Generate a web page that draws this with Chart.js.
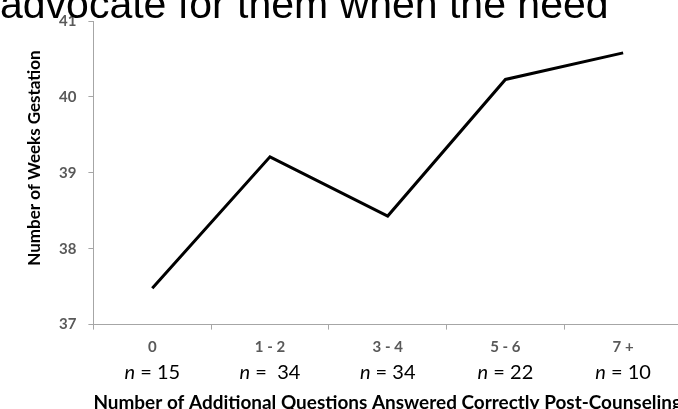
<!DOCTYPE html>
<html>
<head>
<meta charset="utf-8">
<script src="https://cdn.jsdelivr.net/npm/chart.js@4.4.1/dist/chart.umd.min.js"></script>
<style>
  html, body { margin: 0; padding: 0; background: #fff; overflow: hidden; width: 678px; height: 409px; }
  #wrap { position: relative; width: 678px; height: 409px; overflow: hidden; }
  #chart { position: absolute; left: 0; top: 0; }
  .cut-text {
    position: absolute; left: 0; top: -16px; white-space: nowrap;
    font-family: "Liberation Sans", Arial, sans-serif; font-size: 41px; line-height: 41px; color: #000;
  }
</style>
</head>
<body>
<div id="wrap">
  <canvas id="chart" width="690" height="414"></canvas>
  <div class="cut-text">advocate for them when the need</div>
</div>
<script>
// categories and values
const categories = ['0', '1 - 2', '3 - 4', '5 - 6', '7 +'];
const groupSizes = ['15', ' 34', '34', '22', '10'];
const weeksGestation = [37.48, 39.21, 38.43, 40.23, 40.58];
const yTicks = [37, 38, 39, 40, 41];

const yTitle = 'Number of Weeks Gestation';
const xTitle = 'Number of Additional Questions Answered Correctly Post-Counseling';

const axisGrey = '#a6a6a6';
const labelGrey = '#595959';

// draws the "n = .." row under the categories and the rotated y title
const extraLabels = {
  id: 'extraLabels',
  afterDraw(chart) {
    const ctx = chart.ctx;
    const xScale = chart.scales.x;
    const rowY = chart.chartArea.bottom + 48;
    ctx.save();
    ctx.fillStyle = '#000';
    ctx.textBaseline = 'middle';
    ctx.textAlign = 'left';
    groupSizes.forEach((n, i) => {
      const cx = xScale.getPixelForValue(i);
      const rest = ' = ' + n;
      ctx.font = 'italic 20px Lato';
      const wN = ctx.measureText('n').width;
      ctx.font = '20px Lato';
      const wRest = ctx.measureText(rest).width;
      const start = cx - (wN + wRest) / 2;
      ctx.font = 'italic 20px Lato';
      ctx.fillText('n', start, rowY);
      ctx.font = '20px Lato';
      ctx.fillText(rest, start + wN, rowY);
    });

    // y axis title
    ctx.translate(35, 158);
    ctx.rotate(-Math.PI / 2);
    ctx.textAlign = 'center';
    ctx.font = 'bold 17px Lato';
    ctx.fillText(yTitle, 0, 0);
    ctx.restore();
  }
};

new Chart(document.getElementById('chart'), {
  type: 'line',
  data: {
    labels: categories,
    datasets: [{
      data: weeksGestation,
      borderColor: '#000',
      borderWidth: 3,
      pointRadius: 0,
      tension: 0,
      fill: false
    }]
  },
  options: {
    responsive: false,
    animation: false,
    layout: { padding: { left: 47, right: 8, top: 14, bottom: 0 } },
    plugins: {
      legend: { display: false },
      tooltip: { enabled: false }
    },
    scales: {
      x: {
        offset: true,
        grid: { offset: true, drawOnChartArea: false, drawTicks: true, tickLength: 5, color: axisGrey },
        border: { color: axisGrey, width: 1 },
        ticks: { color: labelGrey, font: { family: 'Lato', size: 15, weight: 'bold' }, padding: 9, maxRotation: 0 },
        title: {
          display: true,
          text: xTitle,
          color: '#000',
          font: { family: 'Lato', size: 19.5, weight: 'bold' },
          padding: { top: 25, bottom: 0 }
        }
      },
      y: {
        min: 37,
        max: 41,
        afterBuildTicks: (axis) => { axis.ticks = yTicks.map(v => ({ value: v })); },
        grid: { drawOnChartArea: false, drawTicks: true, tickLength: 5, color: axisGrey },
        border: { color: axisGrey, width: 1 },
        ticks: { color: labelGrey, font: { family: 'Lato', size: 15, weight: 'bold' }, padding: 12 }
      }
    }
  },
  plugins: [extraLabels]
});
</script>
</body>
</html>
